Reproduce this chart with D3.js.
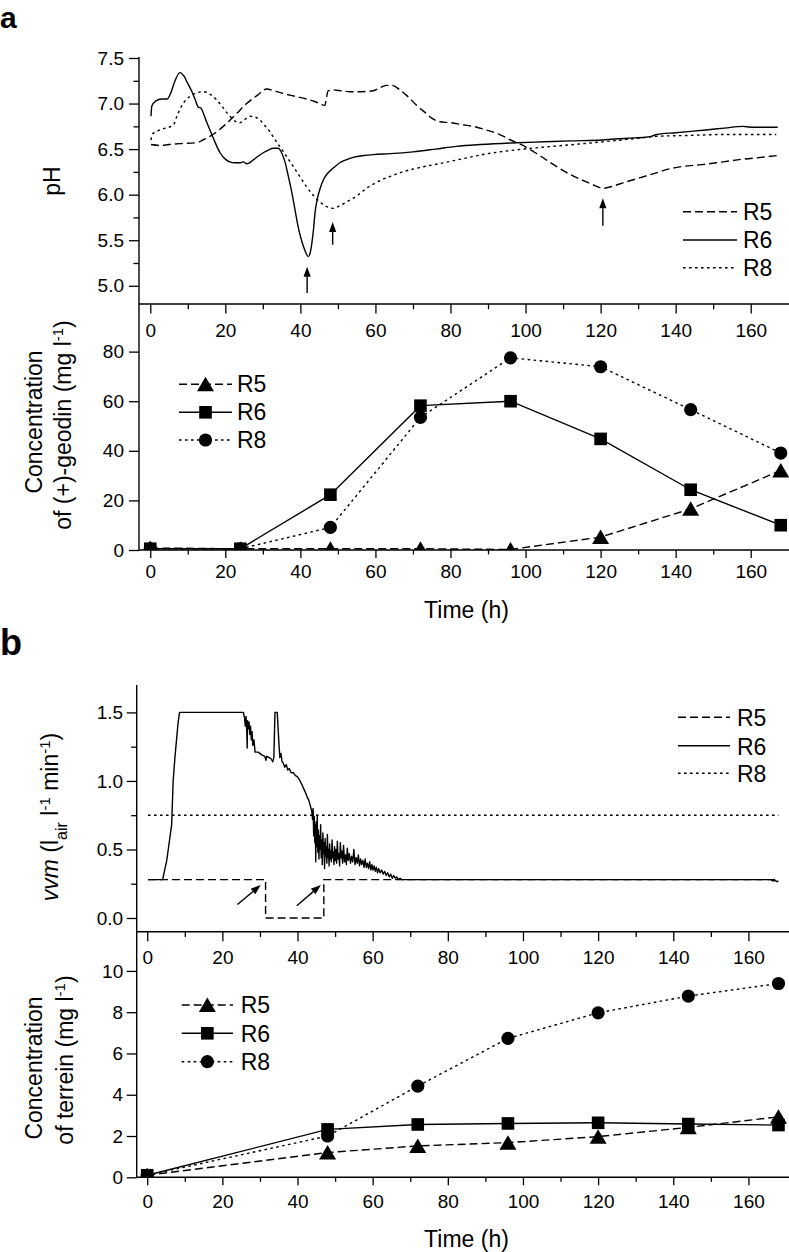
<!DOCTYPE html>
<html><head><meta charset="utf-8">
<script src="https://cdn.jsdelivr.net/npm/d3@7"></script>
<style>body{margin:0;background:#fff}svg{display:block}</style>
</head><body>
<svg id="c" width="789" height="1252"></svg>
<script>
// ---------- DATA ----------
const series = ["R5", "R6", "R8"];
const xTicks = [0, 20, 40, 60, 80, 100, 120, 140, 160];
const xMinorTicks = [10, 30, 50, 70, 90, 110, 130, 150];
const phTicks = [5.0, 5.5, 6.0, 6.5, 7.0, 7.5];
const phMinorTicks = [5.25, 5.75, 6.25, 6.75, 7.25];
const geodinTicks = [0, 20, 40, 60, 80];
const vvmTicks = [0.0, 0.5, 1.0, 1.5];
const vvmMinorTicks = [0.25, 0.75, 1.25];
const terreinTicks = [0, 2, 4, 6, 8, 10];

// pH time courses [h, pH]
const phR5 = [[0.2,6.55],[2.6,6.54],[5,6.55],[7.9,6.56],[12.4,6.57],[14,6.6],[15.9,6.64],[18,6.7],[20.3,6.78],[23,6.89],[25.7,7.0],[28.5,7.09],[31,7.16],[33,7.14],[35.4,7.11],[38.5,7.08],[41.6,7.05],[44,7.02],[46.5,6.98],[47.4,7.14],[48.7,7.15],[51,7.14],[53.2,7.13],[56,7.13],[59.4,7.14],[61.5,7.18],[63,7.2],[64.5,7.2],[66.5,7.15],[68.3,7.09],[71,6.98],[73.6,6.89],[75,6.84],[77.1,6.8],[80,6.79],[83,6.77],[86,6.75],[89.5,6.71],[93.1,6.66],[96,6.6],[99.3,6.54],[103,6.45],[108.2,6.31],[112,6.22],[116.2,6.14],[118.5,6.1],[120.6,6.07],[123,6.09],[126,6.13],[130,6.18],[134.9,6.24],[138,6.28],[141.9,6.31],[147,6.33],[152.6,6.36],[158,6.39],[163,6.41],[167.2,6.43]];
const phR6 = [[0.2,6.86],[0.4,6.97],[1.5,7.03],[3,7.05],[4.5,7.05],[5.5,7.12],[6.5,7.24],[7.9,7.34],[9,7.3],[10,7.22],[11,7.14],[12,7.04],[12.8,6.96],[13.5,6.95],[14.1,6.9],[15,6.8],[15.9,6.71],[17,6.6],[18.6,6.46],[20,6.39],[21.2,6.36],[22.5,6.35],[23.9,6.35],[24.8,6.36],[25.6,6.34],[26.5,6.35],[27.4,6.38],[29,6.43],[30.1,6.46],[31.5,6.49],[32.8,6.51],[34.1,6.51],[35,6.46],[35.9,6.36],[36.8,6.2],[37.6,6.05],[38.5,5.85],[39.4,5.65],[40.3,5.5],[41.2,5.39],[42.1,5.32],[42.6,5.36],[43,5.45],[43.5,5.62],[43.9,5.8],[44.5,5.95],[45.2,6.06],[46.2,6.17],[47.4,6.24],[49,6.3],[50.5,6.35],[52,6.38],[54.1,6.41],[57,6.43],[59.4,6.44],[64,6.45],[70,6.47],[76,6.5],[81.6,6.53],[88,6.55],[97.6,6.57],[105,6.58],[112,6.59],[120.6,6.6],[127,6.62],[132,6.63],[133.5,6.64],[135,6.66],[140,6.68],[148,6.71],[153,6.73],[157.9,6.75],[160,6.74],[167.2,6.74]];
const phR8 = [[0.2,6.6],[0.5,6.66],[2,6.7],[4,6.73],[6.1,6.76],[7,6.85],[8.3,6.97],[9.5,7.04],[11,7.09],[12.5,7.12],[14.1,7.13],[16,7.1],[17.7,7.04],[19.5,6.95],[21.2,6.86],[22.5,6.81],[23.9,6.79],[25,6.82],[26.6,6.86],[28,6.85],[29.2,6.82],[30.5,6.76],[31.9,6.69],[33,6.62],[34.5,6.53],[36.3,6.42],[38.1,6.31],[40,6.19],[41.6,6.09],[43.5,5.99],[45.2,5.92],[47,5.87],[48.7,5.85],[51,5.89],[53.2,5.94],[55.5,6.0],[57.6,6.07],[61,6.15],[63.9,6.2],[66.5,6.24],[72,6.3],[77,6.34],[81.6,6.38],[90,6.45],[99.3,6.5],[110,6.54],[120.6,6.58],[128,6.61],[134.9,6.64],[143,6.65],[152.6,6.66],[160,6.66],[166.8,6.66]];
// pH arrows (time, tail pH, head pH)
const phArrows = [[41.8,4.92,5.21],[48.6,5.45,5.70],[120.6,5.66,5.96]];

// (+)-geodin concentrations (mg/l)
const sampleTimes = [0, 24, 48, 72, 96, 120, 144, 168];
const geodinR5 = [0.8, 0.5, 0.5, 0.5, 0.2, 5.2, 16.6, 32.1];
const geodinR6 = [0.5, 0.5, 22.3, 58.2, 60.0, 44.8, 24.3, 10.0];
const geodinR8 = [0.5, 0.5, 9.1, 53.5, 77.5, 73.9, 56.6, 39.1];

// vvm time courses [h, vvm]
const vvmR5 = [[0.2,0.28],[31.5,0.28],[31.5,0.0],[47.0,0.0],[47.0,0.28],[168,0.28]];
const vvmR6 = [[0.2,0.28],[4.1,0.28],[5.2,0.42],[6.0,0.58],[6.5,0.68],[6.9,1.0],[7.4,1.18],[7.8,1.30],[8.2,1.42],[8.6,1.5],[25.6,1.5],[25.9,1.46],[26.1,1.40],[26.3,1.47],[26.5,1.36],[26.6,1.24],[26.7,1.44],[26.9,1.38],[27.1,1.43],[27.3,1.34],[27.5,1.40],[27.7,1.30],[27.9,1.36],[28.1,1.26],[28.4,1.30],[28.7,1.21],[29.5,1.21],[30.5,1.19],[31.3,1.18],[31.6,1.15],[31.8,1.18],[32.5,1.17],[33.0,1.16],[33.4,1.14],[33.7,1.17],[34.0,1.5],[34.6,1.5],[35.0,1.3],[35.3,1.17],[35.6,1.20],[35.9,1.14],[36.2,1.13],[36.6,1.10],[37.0,1.12],[37.4,1.08],[37.8,1.09],[38.3,1.06],[38.9,1.06],[39.4,1.04],[40.0,1.03],[40.7,1.0],[41.2,0.97],[41.7,0.94],[42.2,0.91],[42.6,0.88],[43.0,0.86],[43.4,0.82],[43.8,0.78],[44.0,0.72],[44.15,0.80],[44.3,0.60],[44.45,0.74],[44.6,0.55],[44.75,0.68],[44.85,0.41],[44.95,0.70],[45.1,0.52],[45.25,0.75],[45.4,0.48],[45.55,0.64],[45.7,0.43],[45.85,0.60],[46.0,0.50],[46.15,0.68],[46.3,0.44],[46.45,0.57],[46.6,0.39],[46.75,0.62],[46.9,0.47],[47.05,0.55],[47.2,0.36],[47.35,0.58],[47.5,0.45],[47.65,0.52],[47.8,0.40],[47.95,0.61],[48.1,0.44],[48.25,0.50],[48.4,0.38],[48.55,0.54],[48.7,0.43],[48.85,0.49],[49.0,0.41],[49.2,0.57],[49.35,0.44],[49.5,0.48],[49.7,0.39],[49.85,0.52],[50.0,0.42],[50.2,0.50],[50.4,0.40],[50.6,0.56],[50.8,0.43],[51.0,0.47],[51.2,0.38],[51.4,0.55],[51.6,0.44],[51.8,0.49],[52.0,0.40],[52.25,0.53],[52.5,0.41],[52.75,0.46],[53.0,0.39],[53.25,0.51],[53.5,0.42],[53.8,0.47],[54.1,0.40],[54.4,0.45],[54.7,0.41],[55.0,0.50],[55.3,0.39],[55.6,0.44],[55.9,0.40],[56.2,0.46],[56.5,0.38],[56.8,0.43],[57.1,0.39],[57.4,0.42],[57.7,0.37],[58.0,0.43],[58.3,0.37],[58.6,0.40],[58.9,0.36],[59.2,0.41],[59.5,0.35],[59.8,0.39],[60.1,0.35],[60.4,0.38],[60.7,0.34],[61.0,0.37],[61.3,0.33],[61.6,0.36],[62.0,0.33],[62.4,0.35],[62.8,0.32],[63.2,0.34],[63.6,0.31],[64.0,0.33],[64.4,0.30],[64.8,0.32],[65.2,0.29],[65.6,0.31],[66.0,0.29],[66.4,0.30],[66.8,0.28],[67.3,0.29],[67.7,0.28],[166,0.28],[166.5,0.27],[167,0.275],[167.5,0.265],[168,0.27]];
const vvmR8 = [[0.2,0.75],[168,0.75]];
// vvm arrows [tail t, tail vvm, head t, head vvm]
const vvmArrows = [[24.0,0.098,30.2,0.24],[39.8,0.09,46.2,0.24]];

// terrein concentrations (mg/l)
const terreinTimes = [0, 48, 72, 96, 120, 144, 168];
const terreinR5 = [0.1, 1.2, 1.52, 1.68, 1.97, 2.42, 2.93];
const terreinR6 = [0.1, 2.32, 2.56, 2.61, 2.64, 2.58, 2.53];
const terreinR8 = [0.1, 2.0, 4.42, 6.73, 7.97, 8.78, 9.39];

// ---------- DRAW ----------
const FONT = "'Liberation Sans', Arial, Helvetica, sans-serif";
const svg = d3.select("#c");
svg.append("rect").attr("width", 789).attr("height", 1252).attr("fill", "#fff");
const dash = {R5: "8,4", R6: null, R8: "2.6,3.4"};
const LW = 1.4;

function yAxis(scale, x, majors, minors, fmt, pad, y0, y1) {
  const g = svg.append("g").attr("transform", `translate(${x},0)`);
  g.call(d3.axisLeft(scale).tickValues(majors).tickSize(10).tickPadding(pad).tickFormat(fmt));
  if (minors) g.append("g").call(d3.axisLeft(scale).tickValues(minors).tickSize(5.5).tickFormat(""));
  g.selectAll(".domain").remove();
  g.selectAll("line").attr("stroke", "#000").attr("stroke-width", 1.3);
  g.selectAll("text").attr("font-family", FONT).attr("font-size", 19).attr("fill", "#000");
  g.append("line").attr("x1", 0).attr("x2", 0).attr("y1", y0).attr("y2", y1).attr("stroke", "#000").attr("stroke-width", 1.4);
}
function xAxis(scale, y, size, pad) {
  const g = svg.append("g").attr("transform", `translate(0,${y})`);
  g.call(d3.axisBottom(scale).tickValues(xTicks).tickSize(size).tickPadding(pad).tickFormat(d3.format("d")));
  g.append("g").call(d3.axisBottom(scale).tickValues(xMinorTicks).tickSize(size * 0.55).tickFormat(""));
  g.selectAll(".domain").remove();
  g.selectAll("line").attr("stroke", "#000").attr("stroke-width", 1.3);
  g.selectAll("text").attr("font-family", FONT).attr("font-size", 19).attr("fill", "#000");
  const r = scale.range();
  g.append("line").attr("x1", r[0]).attr("x2", r[1]).attr("y1", 0).attr("y2", 0).attr("stroke", "#000").attr("stroke-width", 1.4);
}
function text(x, y, s, size, opts = {}) {
  const t = svg.append("text").attr("x", x).attr("y", y).attr("font-family", FONT)
    .attr("font-size", size).attr("fill", "#000").text(s);
  if (opts.anchor) t.attr("text-anchor", opts.anchor);
  if (opts.weight) t.attr("font-weight", opts.weight);
  return t;
}
function rotTitle(x, y, parts) {
  const t = svg.append("text").attr("transform", `translate(${x},${y}) rotate(-90)`)
    .attr("text-anchor", "middle").attr("font-family", FONT).attr("font-size", 23).attr("fill", "#000");
  parts.forEach(p => {
    const ts = t.append("tspan").text(p.t);
    if (p.sup) ts.attr("font-size", 15).attr("baseline-shift", "super");
    if (p.sub) ts.attr("font-size", 16).attr("baseline-shift", "sub");
    if (p.it) ts.attr("font-style", "italic");
  });
}
function marker(g, kind, x, y) {
  if (kind === "R5") g.append("path").attr("d", `M${x},${y-7.5}L${x+8.5},${y+7}L${x-8.5},${y+7}Z`).attr("fill", "#000");
  else if (kind === "R6") g.append("rect").attr("x", x - 6.3).attr("y", y - 6.3).attr("width", 12.6).attr("height", 12.6).attr("fill", "#000");
  else g.append("circle").attr("cx", x).attr("cy", y).attr("r", 6.6).attr("fill", "#000");
}
function arrow(x1, y1, x2, y2) {
  const ang = Math.atan2(y2 - y1, x2 - x1), L = 10, W = 3.6;
  const bx = x2 - L * Math.cos(ang), by = y2 - L * Math.sin(ang);
  svg.append("line").attr("x1", x1).attr("y1", y1).attr("x2", bx).attr("y2", by).attr("stroke", "#000").attr("stroke-width", 1.4);
  const px = -Math.sin(ang) * W, py = Math.cos(ang) * W;
  svg.append("path").attr("d", `M${x2},${y2}L${bx+px},${by+py}L${bx-px},${by-py}Z`).attr("fill", "#000");
}
function lineLegend(x0, x1, xt, ys, baseOff) {
  series.forEach((s, i) => {
    svg.append("line").attr("x1", x0).attr("x2", x1).attr("y1", ys[i]).attr("y2", ys[i])
      .attr("stroke", "#000").attr("stroke-width", LW).attr("stroke-dasharray", dash[s]);
    text(xt, ys[i] + baseOff, s, 23);
  });
}
function markerLegend(x0, x1, xt, ys, baseOff) {
  series.forEach((s, i) => {
    svg.append("line").attr("x1", x0).attr("x2", x1).attr("y1", ys[i]).attr("y2", ys[i])
      .attr("stroke", "#000").attr("stroke-width", LW).attr("stroke-dasharray", dash[s]);
    marker(svg, s, (x0 + x1) / 2, ys[i]);
    text(xt, ys[i] + baseOff, s, 23);
  });
}

// ===== Panel a =====
text(0, 28, "a", 30, {weight: "bold"});
const xa = d3.scaleLinear().domain([-3, 170.2]).range([139, 789]);
const yPh = d3.scaleLinear().domain([4.8, 7.5]).range([304, 58]);
const yGeo = d3.scaleLinear().domain([0, 99.2]).range([550, 304]);

const phLine = d3.line().x(d => xa(d[0])).y(d => yPh(d[1])).curve(d3.curveMonotoneX);
[["R5", phR5], ["R6", phR6], ["R8", phR8]].forEach(([s, d]) => {
  svg.append("path").attr("d", phLine(d)).attr("fill", "none").attr("stroke", "#000")
    .attr("stroke-width", LW).attr("stroke-dasharray", dash[s]);
});
phArrows.forEach(a => arrow(xa(a[0]), yPh(a[1]), xa(a[0]), yPh(a[2])));
lineLegend(683, 737, 743, [211.7, 240, 267.7], 8.3);

yAxis(yPh, 139, phTicks, phMinorTicks, d3.format(".1f"), 5, yPh(7.5) - 1, 304);
xAxis(xa, 304, 9.5, 10);
rotTitle(60, 181, [{t: "pH"}]);

// geodin
svg.append("clipPath").attr("id", "clipGeo").append("rect").attr("x", 139).attr("y", 290).attr("width", 660).attr("height", 260);
const gGeo = svg.append("g").attr("clip-path", "url(#clipGeo)");
const geoLine = d3.line().x((d, i) => xa(sampleTimes[i])).y(d => yGeo(d));
[["R5", geodinR5], ["R6", geodinR6], ["R8", geodinR8]].forEach(([s, d]) => {
  gGeo.append("path").attr("d", geoLine(d)).attr("fill", "none").attr("stroke", "#000")
    .attr("stroke-width", LW).attr("stroke-dasharray", dash[s]);
});
[["R5", geodinR5], ["R8", geodinR8], ["R6", geodinR6]].forEach(([s, d]) => {
  d.forEach((v, i) => marker(gGeo, s, xa(sampleTimes[i]), yGeo(v)));
});
markerLegend(179, 232, 237, [384.3, 412.3, 440], 7.8);
yAxis(yGeo, 139, geodinTicks, null, d3.format("d"), 5, 304, 550);
xAxis(xa, 550, 8, 7);
rotTitle(41.5, 422, [{t: "Concentration"}]);
rotTitle(71, 425, [{t: "of (+)-geodin (mg l"}, {t: "-1", sup: true}, {t: ")"}]);
text(466.5, 618, "Time (h)", 23, {anchor: "middle"});

// ===== Panel b =====
text(0, 655, "b", 36, {weight: "bold"});
const xb = d3.scaleLinear().domain([-2.8, 170.8]).range([136.7, 789]);
const yVvm = d3.scaleLinear().domain([-0.1, 1.7]).range([931.7, 685]);
const yTer = d3.scaleLinear().domain([0, 11.9]).range([1177.3, 931.7]);

const vvmLine = d3.line().x(d => xb(d[0])).y(d => yVvm(d[1]));
[["R8", vvmR8], ["R5", vvmR5]].forEach(([s, d]) => {
  svg.append("path").attr("d", vvmLine(d)).attr("fill", "none").attr("stroke", "#000")
    .attr("stroke-width", LW).attr("stroke-dasharray", dash[s]);
});
svg.append("path").attr("d", vvmLine(vvmR6)).attr("fill", "none").attr("stroke", "#000")
  .attr("stroke-width", 1.4).attr("stroke-linejoin", "round");
vvmArrows.forEach(a => arrow(xb(a[0]), yVvm(a[1]), xb(a[2]), yVvm(a[3])));
lineLegend(678, 730, 737, [717.3, 745.7, 773.3], 9);
yAxis(yVvm, 136.7, vvmTicks, vvmMinorTicks, d3.format(".1f"), 3.5, 685, 931.7);
xAxis(xb, 931.7, 9.5, 9);
rotTitle(58, 817, [{t: "vvm", it: true}, {t: " (l"}, {t: "air", sub: true}, {t: " l"}, {t: "-1", sup: true}, {t: " min"}, {t: "-1", sup: true}, {t: ")"}]);

// terrein
svg.append("clipPath").attr("id", "clipTer").append("rect").attr("x", 136.7).attr("y", 920).attr("width", 660).attr("height", 257.3);
const gTer = svg.append("g").attr("clip-path", "url(#clipTer)");
const terLine = d3.line().x((d, i) => xb(terreinTimes[i])).y(d => yTer(d));
[["R5", terreinR5], ["R6", terreinR6], ["R8", terreinR8]].forEach(([s, d]) => {
  gTer.append("path").attr("d", terLine(d)).attr("fill", "none").attr("stroke", "#000")
    .attr("stroke-width", LW).attr("stroke-dasharray", dash[s]);
});
[["R8", terreinR8], ["R6", terreinR6], ["R5", terreinR5]].forEach(([s, d]) => {
  d.forEach((v, i) => marker(gTer, s, xb(terreinTimes[i]), yTer(v)));
});
markerLegend(181.7, 233, 240.7, [1005, 1033.3, 1061.7], 8.3);
yAxis(yTer, 136.7, terreinTicks, null, d3.format("d"), 3.5, 931.7, 1177.3);
xAxis(xb, 1177.3, 8, 9.5);
rotTitle(41.5, 1068, [{t: "Concentration"}]);
rotTitle(73, 1060, [{t: "of terrein (mg l"}, {t: "-1", sup: true}, {t: ")"}]);
text(466.5, 1246.5, "Time (h)", 23, {anchor: "middle"});
</script>
</body></html>
